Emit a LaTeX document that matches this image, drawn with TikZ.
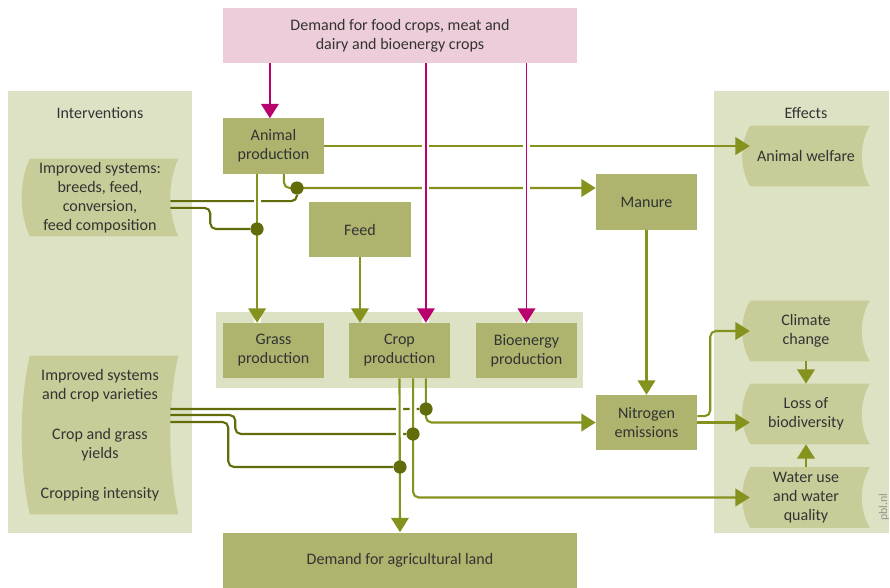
\documentclass[tikz,border=0pt]{standalone}
\usepackage{fontspec}
\setmainfont{Carlito}
\usepackage{xcolor}
\usepackage{tikz}
\usetikzlibrary{arrows.meta,calc,backgrounds}
\pgfdeclarelayer{front}
\pgfsetlayers{background,main,front}
\definecolor{pblolive}{RGB}{174,180,110}
\definecolor{pblpanel}{RGB}{222,226,197}
\definecolor{pblflag}{RGB}{200,204,152}
\definecolor{pblpink}{RGB}{236,205,217}
\definecolor{pblmagenta}{RGB}{184,0,110}
\definecolor{pblarrow}{RGB}{133,146,30}
\definecolor{pbldark}{RGB}{98,108,10}
\definecolor{pbltext}{RGB}{51,51,51}
\definecolor{pblgrey}{RGB}{150,152,140}
\tikzset{
  box/.style={fill=pblolive, inner sep=0pt, align=center, text=pbltext,
    minimum width=2.525cm, minimum height=1.375cm},
  widebox/.style={box, minimum width=8.85cm},
  panel/.style={fill=pblpanel, inner sep=0pt},
  flagnode/.style={inner sep=0pt, align=center, text=pbltext, minimum width=3.7cm},
  effnode/.style={flagnode, minimum width=2.975cm, minimum height=1.5cm},
  arrow/.style={-{Triangle[length=3.6mm, width=4.4mm]}, line width=1.5pt,
    draw=pblarrow, rounded corners=1.4mm},
  magarrow/.style={arrow, draw=pblmagenta, line width=1.4pt},
  ivline/.style={line width=1.5pt, draw=pbldark, rounded corners=1.4mm},
  gap/.style={preaction={draw=white, -, line width=5pt, #1}},
  gap/.default={shorten <=0pt},
  dot/.style={circle, fill=pbldark, inner sep=0pt, minimum size=3.3mm},
}
% banner shape behind a node: both sides bent to the left
\newcommand{\flagshape}[1]{%
  \fill[pblflag] ($(#1.north west)+(4,0)$) -- ($(#1.north east)+(4,0)$)
    .. controls ($(#1.north east)!.3!(#1.south east)+(-6.7,0)$) and ($(#1.north east)!.7!(#1.south east)+(-6.7,0)$) .. ($(#1.south east)+(4,0)$)
    -- ($(#1.south west)+(4,0)$)
    .. controls ($(#1.north west)!.7!(#1.south west)+(-6.7,0)$) and ($(#1.north west)!.3!(#1.south west)+(-6.7,0)$) .. cycle;}

\begin{document}
\begin{tikzpicture}[x=0.025cm, y=-0.025cm, font=\fontsize{11.4}{13.5}\selectfont]
  \useasboundingbox (0,0) rectangle (890,587);
  % chain of demand and production
  \node[widebox, fill=pblpink] (demand) at (400,35.5) {Demand for food crops, meat and\\dairy and bioenergy crops};
  \node[box] (animal) at (273.5,146) {Animal\\production};
  \node[box] (feed) at (360,229.5) {Feed};
  \node[box] (manure) at (646.5,202) {Manure};
  \foreach \x/\name/\txt in {273.5/grass/Grass, 399.5/crop/Crop, 526.5/bio/Bioenergy}
    \node[box] (\name) at (\x,350.5) {\txt\\production};
  \node[box] (nitro) at (646.5,422.5) {Nitrogen\\emissions};
  \node[widebox] (land) at (400,560) {Demand for agricultural land};

  % interventions and effects
  \node[text=pbltext] (ivtitle) at (100,113) {Interventions};
  \node[text=pbltext] (efftitle) at (806,113) {Effects};
  \node[flagnode, minimum height=1.925cm] (iv1) at (100,197.5) {Improved systems:\\breeds, feed,\\conversion,\\feed composition};
  \node[flagnode, minimum height=3.95cm] (iv2) at (100,435) {Improved systems\\and crop varieties\\[15pt]Crop and grass\\yields\\[15pt]Cropping intensity};
  \foreach \y/\name/\txt in {156/welfare/Animal welfare, 331/climate/Climate\\change,
                             414/loss/Loss of\\biodiversity, 497.5/water/Water use\\and water\\quality}
    \node[effnode] (\name) at (806,\y) {\txt};
  \node[rotate=90, text=pblgrey, font=\fontsize{8.5}{10}\selectfont] (pbl) at (884,507) {pbl.nl};

  \begin{scope}[on background layer]
    \node[panel, minimum width=4.6cm, minimum height=11.05cm] (ivpanel) at (100,312) {};
    \node[panel, minimum width=4.375cm, minimum height=11.05cm] (effpanel) at (801.5,312) {};
    \node[panel, minimum width=9.175cm, minimum height=1.9cm] (prodpanel) at (399.5,350) {};
    \foreach \n in {iv1,iv2,welfare,climate,loss,water}
      \flagshape{\n};
  \end{scope}

  \begin{pgfonlayer}{front}
    \foreach \x/\y/\name in {297/188/da, 257/229/db, 426/409/dc, 413/434/dd, 400/467/de}
      \node[dot] (\name) at (\x,\y) {};
  \end{pgfonlayer}

  % interventions acting on the flows
  \draw[ivline] ([shift={(-0.1cm,-0.09cm)}]iv1.east) -| (da);
  \draw[ivline] ([shift={(-0.1cm,-0.26cm)}]iv1.east) -- ++(40,0) |- (db);
  \draw[ivline] ([shift={(-0.1cm,0.65cm)}]iv2.east) -- (dc);
  \draw[ivline] ([shift={(-0.1cm,0.5cm)}]iv2.east) -- ++(65,0) |- (dd);
  \draw[ivline] ([shift={(-0.1cm,0.325cm)}]iv2.east) -- ++(58,0) |- (de);

  % flows
  \draw[arrow, shorten >=-0.09cm] (animal.east) -- (animal.east -| welfare.west);
  \draw[arrow] ([xshift=0.26cm]animal.south) |- ([yshift=0.35cm]manure.west);
  \draw[arrow, gap] ([xshift=-0.41cm]animal.south) -- ([xshift=-0.41cm]grass.north);
  \draw[arrow] (feed.south) -- (feed.south |- crop.north);
  \draw[arrow] (manure.south) -- (nitro.north);
  \draw[arrow, gap={shorten <=0.25cm}] (crop.south) -- (land.north);
  \draw[arrow, shorten >=-0.09cm, gap={shorten <=0.25cm, shorten >=0.8cm}] ([xshift=0.34cm]crop.south) |- (water.west);
  \draw[arrow] ([xshift=0.66cm]crop.south) |- (nitro.west);
  \draw[arrow, shorten >=-0.09cm] (nitro.east) -- (nitro.east -| loss.west);
  \draw[arrow, shorten >=-0.09cm] ([yshift=0.16cm]nitro.east) -- ++(13,0) |- (climate.west);
  \draw[arrow] (climate.south) -- (loss.north);
  \draw[arrow] (water.north) -- (loss.south);

  % demand
  \draw[magarrow, gap] ([xshift=-0.09cm]demand.south -| animal.north) -- ([xshift=-0.09cm]animal.north);
  \draw[magarrow, gap] ([xshift=0.66cm]demand.south -| crop.north) -- ([xshift=0.66cm]crop.north);
  \draw[magarrow, gap] (demand.south -| bio.north) -- (bio.north);
\end{tikzpicture}
\end{document}
